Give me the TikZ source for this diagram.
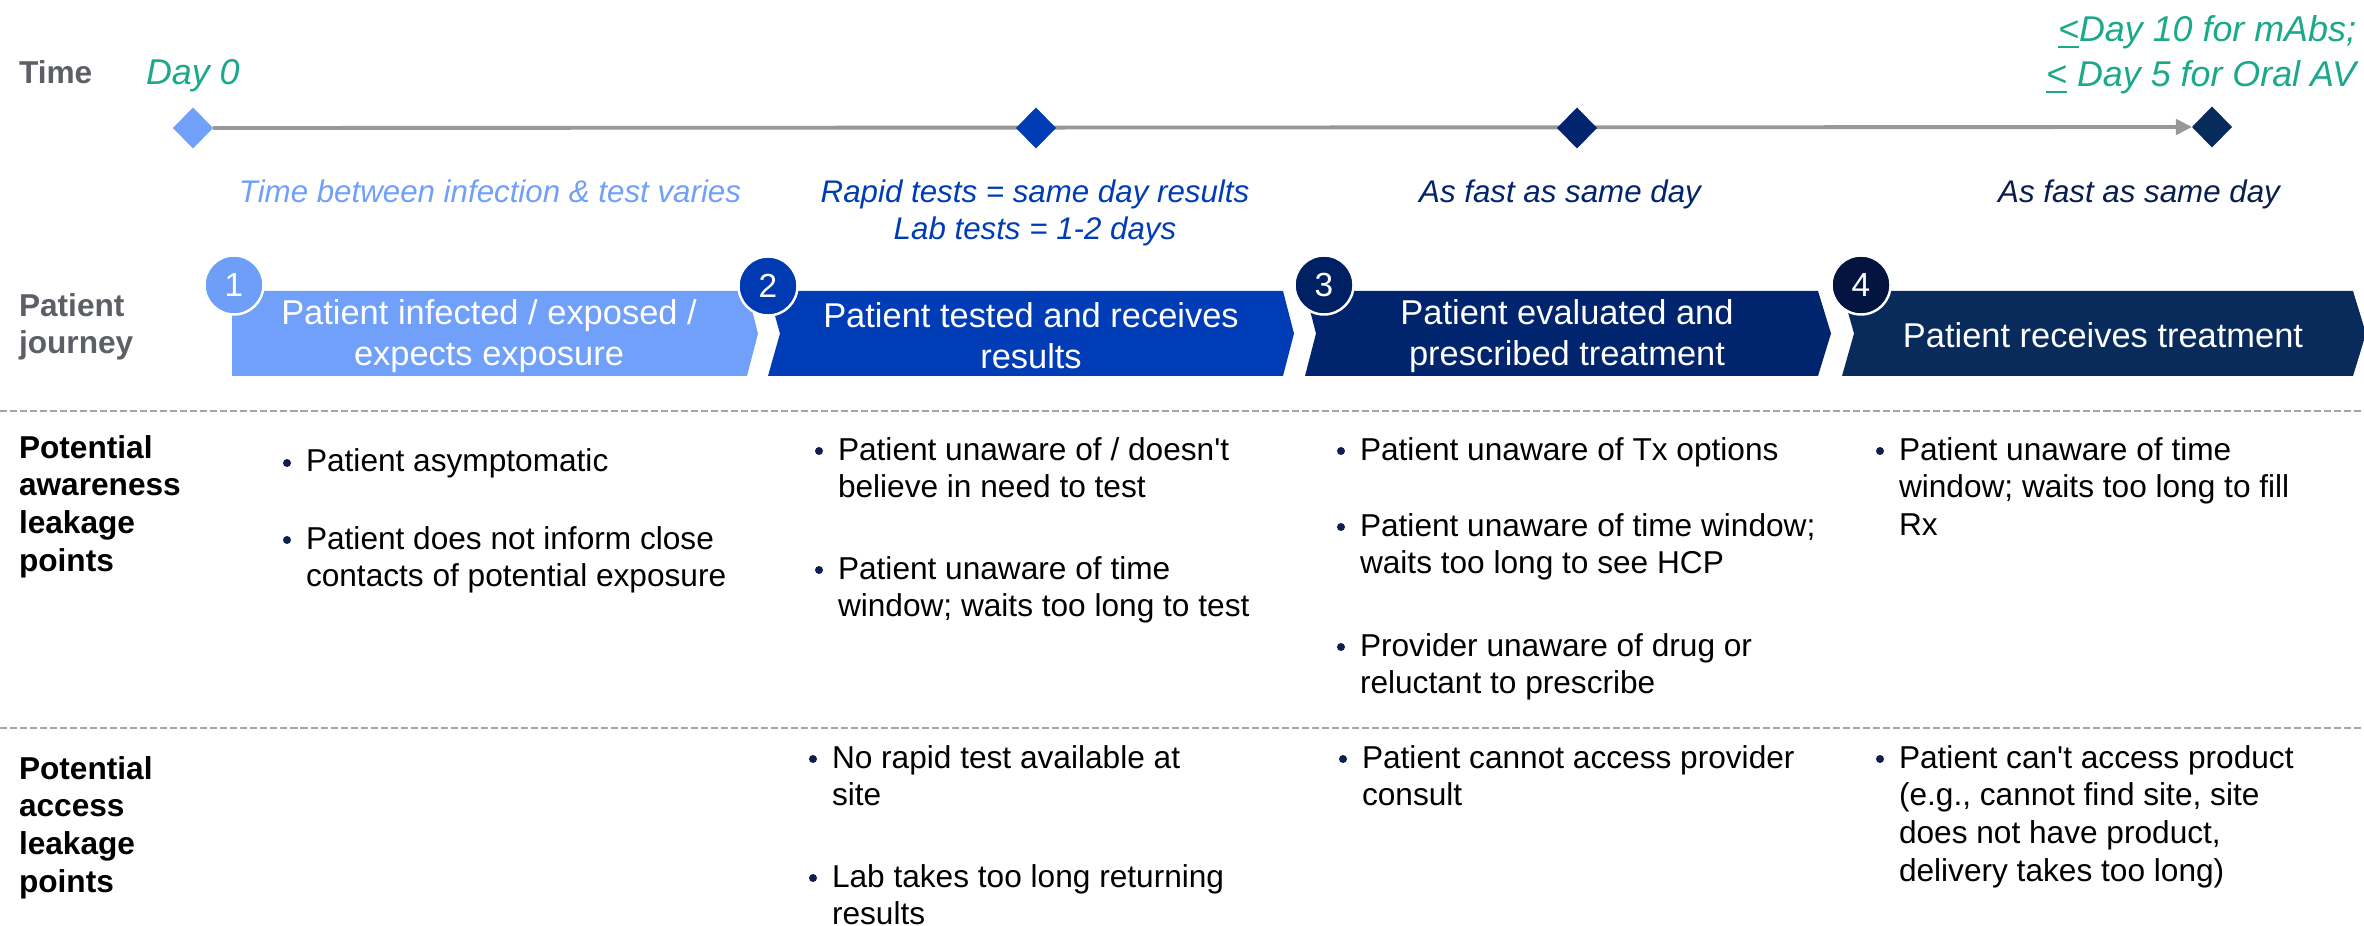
\documentclass[tikz,border=0pt]{standalone}
\usepackage{fontspec}
\setmainfont{Liberation Sans}
\usetikzlibrary{arrows.meta,calc,shapes.geometric}
\pgfdeclarelayer{background}
\pgfsetlayers{background,main}

% palette
\definecolor{stepA}{RGB}{112,160,250}
\definecolor{stepB}{RGB}{0,60,182}
\definecolor{stepC}{RGB}{0,36,110}
\definecolor{stepD}{RGB}{8,43,92}
\definecolor{numA}{RGB}{110,158,248}
\definecolor{numB}{RGB}{0,58,178}
\definecolor{numC}{RGB}{0,32,100}
\definecolor{numD}{RGB}{4,20,64}
\definecolor{noteD}{RGB}{8,30,80}
\definecolor{labelgray}{RGB}{92,95,102}
\definecolor{daygreen}{RGB}{28,168,138}
\definecolor{bulletnavy}{RGB}{15,30,80}
\definecolor{axisgray}{RGB}{152,152,152}
\definecolor{rulegray}{RGB}{165,165,165}

% stacked lines whose baseline is the first line's baseline
\newcommand\stackL[1]{\begin{tabular}[t]{@{}l@{}}#1\end{tabular}}
\newcommand\stackC[1]{\begin{tabular}[t]{@{}c@{}}#1\end{tabular}}
\newcommand\stackR[1]{\begin{tabular}[t]{@{}r@{}}#1\end{tabular}}

% one bulleted leakage point: name, x, first baseline y, text
\newcommand\leakpoint[4]{%
  \node[item] (#1) at (#2,#3) {\stackL{#4}};
  \fill[bulletnavy] ($(#1.base west)+(-19,-9)$) circle[radius=0.4mm];
}

\begin{document}
\begin{tikzpicture}[x=0.1mm,y=-0.1mm,
  every node/.style={inner sep=0pt,outer sep=0pt},
  rowlabel/.style={anchor=base west,font=\bfseries\fontsize{9}{10.8}\selectfont},
  item/.style={anchor=base west,text=black,font=\fontsize{9}{10.8}\selectfont},
  steptext/.style={align=center,text=white,font=\fontsize{9.8}{11.7}\selectfont},
  stepnum/.style={circle,minimum size=5.9mm,draw=white,line width=0.7pt,text=white,font=\fontsize{9.5}{11}\selectfont},
  milestone/.style={diamond,minimum width=4mm,minimum height=4.1mm},
  note/.style={anchor=base,font=\itshape\fontsize{8.9}{10.5}\selectfont},
  daynote/.style={text=daygreen,font=\itshape\fontsize{10.2}{12.8}\selectfont},
  divider/.style={draw=rulegray,line width=0.75pt,dash pattern=on 2pt off 0.85pt},
]
\useasboundingbox (0,0) rectangle (2364,926);
\begin{pgfonlayer}{background}
  \fill[white] (0,0) rectangle (2364,926);
\end{pgfonlayer}

% ---------- row labels ----------
\node[rowlabel,text=labelgray] (lblTime) at (19,84) {Time};
\node[rowlabel,text=labelgray,font=\bfseries\fontsize{9}{10.5}\selectfont] (lblJourney) at (19,317) {\stackL{Patient\\journey}};
\node[rowlabel] (lblAware) at (19,458) {\stackL{Potential\\awareness\\leakage\\points}};
\node[rowlabel] (lblAccess) at (19,779) {\stackL{Potential\\access\\leakage\\points}};

% ---------- time line ----------
\node[milestone,fill=stepA] (d1) at (193,128) {};
\node[milestone,fill=stepB] (d2) at (1036,128) {};
\node[milestone,fill=stepC] (d3) at (1577,128) {};
\node[milestone,fill=stepD] (d4) at (2212,127) {};
\begin{pgfonlayer}{background}
  \draw[axisgray,line width=1.1pt,-{Triangle[length=4.6pt,width=4.4pt]}] (d1.east) -- (d4.west);
\end{pgfonlayer}

\node[daynote,anchor=base west] (day0) at (146,85) {Day 0};
\node[daynote,anchor=base east] (dayEnd) at (2356,42)
  {\stackR{\underline{<}Day 10 for mAbs;\\\underline{<} Day 5 for Oral AV}};

\node[note,text=stepA] (t1) at (490,203) {Time between infection \& test varies};
\node[note,text=stepB] (t2) at (1035,203) {\stackC{Rapid tests = same day results\\Lab tests = 1-2 days}};
\node[note,text=stepC] (t3) at (1560,203) {As fast as same day};
\node[note,text=noteD] (t4) at (2139,203) {As fast as same day};

% ---------- journey chevrons ----------
\fill[stepA] (232,291) -- (747,291) -- (758,333.5) -- (747,376) -- (232,376) -- cycle;
\fill[stepB] (768,291) -- (1283,291) -- (1294,333.5) -- (1283,376) -- (768,376) -- (780,333.5) -- cycle;
\fill[stepC] (1305,291) -- (1818,291) -- (1831,333.5) -- (1818,376) -- (1305,376) -- (1316,333.5) -- cycle;
\fill[stepD] (1842,291) -- (2353,291) -- (2366,333.5) -- (2353,376) -- (1842,376) -- (1854,333.5) -- cycle;

\node[steptext] (s1) at (489,336) {Patient infected / exposed /\\expects exposure};
\node[steptext] (s2) at (1031,336) {Patient tested and receives\\results};
\node[steptext] (s3) at (1567,336) {Patient evaluated and\\prescribed treatment};
\node[steptext] (s4) at (2103,335) {Patient receives treatment};

\node[stepnum,fill=numA] (n1) at (234,285) {1};
\node[stepnum,fill=numB] (n2) at (768,286) {2};
\node[stepnum,fill=numC] (n3) at (1324,285) {3};
\node[stepnum,fill=numD] (n4) at (1861,285) {4};

% ---------- dividers ----------
\coordinate (r1w) at (0,411);   \coordinate (r1e) at (2364,411);
\coordinate (r2w) at (0,728);   \coordinate (r2e) at (2364,728);
\draw[divider] (r1w) -- (r1e);
\draw[divider] (r2w) -- (r2e);

% ---------- awareness leakage points ----------
\leakpoint{a1}{306}{472}{Patient asymptomatic}
\leakpoint{a2}{306}{549}{Patient does not inform close\\contacts of potential exposure}
\leakpoint{a3}{838}{460}{Patient unaware of / doesn\textquotesingle t\\believe in need to test}
\leakpoint{a4}{838}{579}{Patient unaware of time\\window; waits too long to test}
\leakpoint{a5}{1360}{460}{Patient unaware of Tx options}
\leakpoint{a6}{1360}{536}{Patient unaware of time window;\\waits too long to see HCP}
\leakpoint{a7}{1360}{656}{Provider unaware of drug or\\reluctant to prescribe}
\leakpoint{a8}{1899}{460}{Patient unaware of time\\window; waits too long to fill\\Rx}

% ---------- access leakage points ----------
\leakpoint{c1}{832}{768}{No rapid test available at\\site}
\leakpoint{c2}{832}{887}{Lab takes too long returning\\results}
\leakpoint{c3}{1362}{768}{Patient cannot access provider\\consult}
\leakpoint{c4}{1899}{768}{Patient can\textquotesingle t access product\\(e.g., cannot find site, site\\does not have product,\\delivery takes too long)}
\end{tikzpicture}
\end{document}
